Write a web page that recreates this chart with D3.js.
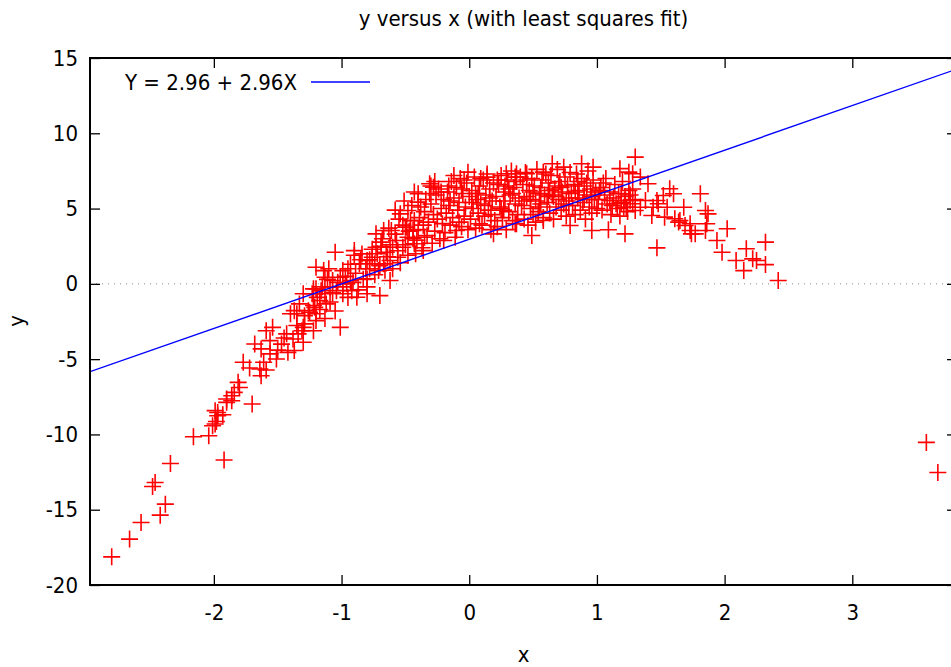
<!DOCTYPE html>
<html>
<head>
<meta charset="utf-8">
<title>y versus x</title>
<style>
  body { margin: 0; background: #fff; }
  text { font-family: "DejaVu Sans Condensed", "DejaVu Sans", sans-serif; font-stretch: condensed; fill: #000; }
</style>
</head>
<body>
<div id="chart"></div>

<script src="https://d3js.org/d3.v7.min.js"></script>
<script>

// chart texts
var title = "y versus x (with least squares fit)";
var xLabel = "x";
var yLabel = "y";

// least squares fit shown in the key
var fitIntercept = 2.96;
var fitSlope = 2.96;
var fitLabel = "Y = 2.96 + 2.96X";

// axis ranges and ticks
var xDomain = [-2.97, 3.82];
var yDomain = [-20, 15];
var xTicks = [-2, -1, 0, 1, 2, 3];
var yTicks = [-20, -15, -10, -5, 0, 5, 10, 15];

// points, lower left arm
var lowArm = [
  [-2.80,-18.13],[-2.66,-16.95],[-2.57,-15.85],[-2.42,-15.36],[-2.38,-14.63],
  [-2.48,-13.46],[-2.46,-13.19],[-2.34,-11.93],[-1.92,-11.70],[-2.16,-10.15],
  [-2.04,-10.09],[-2.01,-9.42],[-1.99,-9.31],[-1.98,-9.14],[-1.97,-8.76],
  [-1.93,-8.69],[-1.99,-8.42],[-1.90,-7.87],[-1.86,-7.76],[-1.70,-7.98],
  [-1.97,-8.54],[-1.90,-7.65],[-1.86,-7.43],[-1.84,-7.21],[-1.80,-6.88],
  [-1.81,-6.54],[-1.77,-5.21],[-1.72,-5.59],[-1.68,-3.99],[-1.63,-4.32],
  [-1.61,-5.21],[-1.64,-5.65],[-1.59,-5.72],[-1.63,-6.10],[-1.56,-4.65],
  [-1.59,-3.11],[-1.54,-2.89],[-1.56,-3.77],[-1.51,-4.99],[-1.43,-3.32],
  [-1.42,-4.55],[-1.37,-4.43],[-1.38,-3.66],[-1.34,-3.32],[-1.30,-3.88],
  [-1.31,-3.11],[-1.35,-2.77],[-1.29,-2.66],[-1.22,-3.11],[-1.40,-1.99],
  [-1.37,-1.78],[-1.33,-1.33],[-1.29,-2.11],[-1.26,-1.78],[-1.30,-0.66],
  [-1.23,-0.66],[-1.22,-1.44],[-1.20,-1.99],[-1.17,-1.11],[-1.13,-0.66],
  [-1.12,-1.33],[-1.22,-0.33],[-1.20,-0.33],[-1.47,-4.00],[-1.45,-3.60],
  [-1.50,-4.40],[-1.35,-1.99],[-1.25,-1.89],[-1.21,-1.56],[-1.20,-2.44],
  [-1.30,-2.89],[-1.01,-2.89]
];

// points around the zero crossing
var midArm = [
  [-1.05,2.10],[-1.20,1.10],[-1.14,0.88],[-1.10,1.00],[-1.13,0.44],
  [-1.07,0.22],[-0.99,0.88],[-0.95,1.00],[-1.01,0.44],[-1.09,-0.23],
  [-1.16,-0.45],[-1.04,-0.45],[-0.99,-0.66],[-0.92,-0.45],[-0.88,-0.89],
  [-0.80,-0.66],[-0.70,-0.78],[-0.90,2.21],[-0.84,1.99],[-0.86,1.33],
  [-0.80,1.55],[-0.76,1.77],[-0.78,1.00],[-0.74,1.33],[-0.71,0.88],
  [-0.67,1.33],[-0.73,2.43],[-0.69,2.77],[-0.65,2.10],[-0.62,1.55],
  [-0.60,2.43],[-0.56,1.77],[-0.57,2.88],[-0.52,2.43],[-0.48,3.10],
  [-0.50,3.76],[-0.44,3.54],[-0.43,4.21],[-0.54,4.65],[-0.48,4.87],
  [-0.40,5.43],[-0.40,5.98],[-0.67,3.54],[-0.61,3.54],[-0.73,3.32],
  [-0.62,0.22],[-0.80,0.33],[-0.93,0.22],[-0.96,0.00],
  [-0.78,1.60],[-0.76,2.30],[-0.74,0.60],[-0.72,2.00],[-0.70,1.20],
  [-0.68,3.00],[-0.66,0.90],[-0.64,1.80],[-0.62,2.60],[-0.60,1.00],
  [-0.58,3.30],[-0.56,2.20],[-0.54,1.40],[-0.52,3.90],[-0.50,2.60],
  [-0.48,1.90],[-0.46,4.20],[-0.44,3.00],[-0.42,2.00],[-0.47,3.50],
  [-0.55,4.30],[-0.63,3.70],[-0.69,2.50],
  [-0.99,-0.20],[-0.97,0.50],[-0.95,-0.90],[-0.93,1.30],[-0.91,0.10],
  [-0.89,0.70],[-0.87,-0.40],[-0.85,1.60],[-0.83,0.30],[-0.81,1.00],
  [-0.80,-0.20],[-0.90,1.90],
  [-1.19,-0.90],[-1.17,-1.70],[-1.15,-0.20],[-1.13,-2.30],[-1.11,0.30],
  [-1.09,-1.20],[-1.07,-0.60],[-1.05,-1.80],[-1.03,0.10]
];

// the dense top of the cloud
var topCloud = [
  [-0.01,7.42],[0.14,7.09],[0.29,7.31],[0.36,7.09],[-0.28,6.42],[-0.31,6.65],
  [-0.49,3.76],[-0.36,2.21],[-0.43,2.66],[-0.20,2.88],[-0.10,3.54],[0.19,3.32],
  [0.08,3.99],
  [-0.41,2.9],[-0.40,3.6],[-0.39,4.4],[-0.38,5.1],[-0.37,2.4],[-0.36,3.9],
  [-0.35,4.8],[-0.34,5.6],[-0.33,3.2],[-0.32,4.1],[-0.31,6.0],[-0.30,5.3],
  [-0.29,2.7],[-0.28,4.6],[-0.27,3.5],[-0.26,5.9],[-0.25,4.3],[-0.24,6.3],
  [-0.23,3.0],[-0.22,5.0],[-0.21,4.0],[-0.20,5.6],[-0.30,6.5],[-0.35,3.1],
  [-0.19,3.4],[-0.18,4.7],[-0.17,6.1],[-0.16,5.2],[-0.15,3.9],[-0.14,6.8],
  [-0.13,4.4],[-0.12,5.7],[-0.11,3.1],[-0.10,6.4],[-0.09,4.9],[-0.08,5.4],
  [-0.07,7.0],[-0.06,3.8],[-0.05,6.0],[-0.04,4.5],[-0.03,5.1],[-0.02,6.7],
  [-0.01,3.6],[0.00,5.8],[-0.15,5.5],[-0.08,4.1],[-0.12,7.2],[-0.04,6.9],
  [0.01,4.3],[0.02,6.2],[0.03,5.0],[0.04,7.1],[0.05,3.7],[0.06,5.6],
  [0.07,4.7],[0.08,6.5],[0.09,5.3],[0.10,3.9],[0.11,6.9],[0.12,4.5],
  [0.13,5.9],[0.14,7.3],[0.15,4.9],[0.16,6.3],[0.17,3.6],[0.18,5.5],
  [0.19,6.7],[0.20,4.2],[0.05,6.0],[0.12,5.2],[0.17,4.6],[0.09,7.0],
  [0.21,5.8],[0.22,3.8],[0.23,6.6],[0.24,5.1],[0.25,7.2],[0.26,4.4],
  [0.27,6.1],[0.28,5.5],[0.29,3.6],[0.30,6.9],[0.31,4.8],[0.32,5.9],
  [0.33,7.5],[0.34,4.2],[0.35,6.4],[0.36,5.3],[0.37,6.8],[0.38,4.6],
  [0.39,5.7],[0.40,7.1],[0.25,5.0],[0.31,6.3],[0.36,4.0],[0.28,6.5],
  [0.41,5.2],[0.42,6.6],[0.43,4.3],[0.44,7.4],[0.45,5.8],[0.46,3.9],
  [0.47,6.2],[0.48,5.0],[0.49,7.0],[0.50,4.6],[0.51,6.5],[0.52,5.5],
  [0.53,7.6],[0.54,4.8],[0.55,6.0],[0.56,5.3],[0.57,6.9],[0.58,4.4],
  [0.59,5.9],[0.60,7.3],[0.45,6.9],[0.52,4.1],[0.56,6.4],[0.48,5.6],
  [0.61,5.4],[0.62,6.7],[0.63,4.7],[0.64,7.2],[0.65,5.9],[0.66,4.3],
  [0.67,6.3],[0.68,5.1],[0.69,7.6],[0.70,5.6],[0.71,6.8],[0.72,4.9],
  [0.73,6.1],[0.74,5.3],[0.75,7.1],[0.76,4.5],[0.77,6.5],[0.78,5.7],
  [0.79,7.4],[0.80,6.0],[0.66,5.8],[0.72,6.4],[0.76,5.5],[0.63,6.2],
  [0.81,5.2],[0.82,6.6],[0.83,4.6],[0.84,7.3],[0.85,5.7],[0.86,6.2],
  [0.87,4.9],[0.88,7.0],[0.89,5.4],[0.90,6.5],[0.91,4.3],[0.92,5.9],
  [0.93,7.5],[0.94,5.1],[0.95,6.3],[0.96,4.7],[0.97,6.9],[0.98,5.6],
  [0.99,6.1],[1.00,5.0],[0.85,6.8],[0.92,6.7],[0.96,5.8],
  [0.65,7.98],[0.74,7.75],[0.88,7.98],[0.97,7.75],[1.30,8.42],[1.18,7.65],
  [1.25,7.42],[0.37,7.31],[0.45,7.31],[0.58,7.42],
  [0.49,3.21],[0.79,3.88],[0.96,3.54],[1.09,3.59],[1.22,3.32],[0.58,4.21],
  [0.37,3.99],
  [-0.27,6.8],[-0.22,6.1],[-0.16,6.5],[-0.06,6.3],[0.02,5.4],[0.07,6.0],
  [0.16,5.7],[0.22,6.9],[0.27,4.9],[0.34,6.0],[0.43,5.5],[0.50,6.1],
  [0.55,5.1],[0.62,5.8],[0.70,6.5],[0.78,5.2],[0.83,6.1],[0.90,5.6],
  [-0.45,5.2],[-0.43,6.1],[-0.51,5.5],[-0.58,4.9]
];

// the right, falling side
var highArm = [
  [1.01,5.6],[1.03,6.4],[1.04,4.9],[1.06,5.9],[1.07,7.0],[1.08,5.3],
  [1.10,6.1],[1.11,4.6],[1.13,5.7],[1.14,6.6],[1.16,5.0],[1.17,6.0],
  [1.19,5.4],[1.20,6.8],[1.22,5.8],[1.24,4.8],[1.26,5.9],[1.28,6.3],
  [1.30,5.6],[1.12,5.2],[1.05,6.7],[1.18,4.5],
  [1.15,5.32],[1.21,5.09],[1.26,5.54],[1.30,4.87],[1.10,5.54],[1.02,6.20],
  [1.34,7.09],[1.40,6.65],[1.28,7.31],[1.57,6.32],[1.60,5.98],[1.52,5.87],
  [1.47,5.54],[1.38,5.54],[1.28,5.32],[1.22,5.54],[1.34,5.09],[1.43,4.54],
  [1.48,5.32],[1.53,4.43],[1.68,5.09],[1.61,4.32],[1.65,4.21],[1.69,3.88],
  [1.73,3.54],[1.77,3.32],[1.81,5.98],[1.85,4.87],[1.87,4.65],[1.86,3.99],
  [1.85,3.54],[2.02,3.66],[1.94,2.88],[1.98,2.10],[1.47,2.39],[2.17,2.33],
  [2.32,2.77],[2.09,1.55],[2.22,1.66],[2.15,0.88],[2.32,1.28],[2.25,1.55],
  [2.42,0.22],[1.19,5.98],[1.25,6.20],[1.23,5.09],[1.44,5.09],[1.55,5.09],
  [1.64,4.10],[1.73,3.99],[1.74,3.32],
  [3.58,-10.53],[3.67,-12.53]
];

var points = lowArm.concat(midArm, topCloud, highArm);

var W = 951, H = 667;
var mLeft = 90, mRight = 957, mTop = 58, mBottom = 585;
var fontPx = "22px";

var svg = d3.select("#chart").append("svg")
    .attr("width", W).attr("height", H);

var x = d3.scaleLinear().domain(xDomain).range([mLeft, mRight]);
var y = d3.scaleLinear().domain(yDomain).range([mBottom, mTop]);

svg.append("clipPath").attr("id", "plotclip")
  .append("rect").attr("x", mLeft).attr("y", mTop)
  .attr("width", mRight - mLeft).attr("height", mBottom - mTop);

// zero axis, dotted
svg.append("line")
    .attr("x1", mLeft).attr("x2", mRight)
    .attr("y1", y(0)).attr("y2", y(0))
    .attr("stroke", "#888").attr("stroke-width", 1)
    .attr("stroke-dasharray", "1,5");

// axes with inward ticks on all four sides
var tickLen = 10;
var plain = function(d) { return String(d); };
var axStyle = function(g) {
  g.selectAll(".domain").remove();
  g.selectAll(".tick line").attr("stroke", "#000").attr("stroke-width", 1.3);
  g.selectAll("text").style("font-size", fontPx).attr("fill", "#000");
};

svg.append("g").attr("transform", "translate(0," + mBottom + ")")
  .call(d3.axisBottom(x).tickValues(xTicks).tickSize(-tickLen).tickPadding(19).tickFormat(plain))
  .call(axStyle);
svg.append("g").attr("transform", "translate(0," + mTop + ")")
  .call(d3.axisTop(x).tickValues(xTicks).tickSize(-tickLen).tickFormat(""))
  .call(axStyle);
svg.append("g").attr("transform", "translate(" + mLeft + ",0)")
  .call(d3.axisLeft(y).tickValues(yTicks).tickSize(-tickLen).tickPadding(12).tickFormat(plain))
  .call(axStyle);
svg.append("g").attr("transform", "translate(" + mRight + ",0)")
  .call(d3.axisRight(y).tickValues(yTicks).tickSize(-tickLen).tickFormat(""))
  .call(axStyle);

// data points as red crosses
var half = 8.5;
var pts = svg.append("g").attr("clip-path", "url(#plotclip)")
    .attr("stroke", "#ff0000").attr("stroke-width", 1.6).attr("fill", "none");
pts.selectAll("path").data(points).enter().append("path")
    .attr("d", function(d) {
      var cx = x(d[0]), cy = y(d[1]);
      return "M" + (cx - half) + "," + cy + "H" + (cx + half) +
             "M" + cx + "," + (cy - half) + "V" + (cy + half);
    });

// fit line
var fitLine = d3.line()
    .x(function(d) { return x(d); })
    .y(function(d) { return y(fitIntercept + fitSlope * d); });
svg.append("path").datum(xDomain)
    .attr("clip-path", "url(#plotclip)")
    .attr("d", fitLine)
    .attr("fill", "none").attr("stroke", "#0000ff").attr("stroke-width", 1.4);

// border
svg.append("rect")
    .attr("x", mLeft).attr("y", mTop)
    .attr("width", mRight - mLeft).attr("height", mBottom - mTop)
    .attr("fill", "none").attr("stroke", "#000").attr("stroke-width", 2);

// key
svg.append("text").attr("x", 297).attr("y", 82).attr("dy", "0.35em")
    .attr("text-anchor", "end").style("font-size", fontPx).text(fitLabel);
svg.append("line").attr("x1", 311).attr("x2", 370).attr("y1", 82).attr("y2", 82)
    .attr("stroke", "#0000ff").attr("stroke-width", 1.4);

// titles
svg.append("text").attr("x", (mLeft + mRight) / 2).attr("y", 18).attr("dy", "0.35em")
    .attr("text-anchor", "middle").style("font-size", fontPx).text(title);
svg.append("text").attr("x", (mLeft + mRight) / 2).attr("y", 662)
    .attr("text-anchor", "middle").style("font-size", fontPx).text(xLabel);
svg.append("text").attr("transform", "translate(24,321) rotate(-90)")
    .attr("text-anchor", "middle").style("font-size", fontPx).text(yLabel);

</script>
</body>
</html>
